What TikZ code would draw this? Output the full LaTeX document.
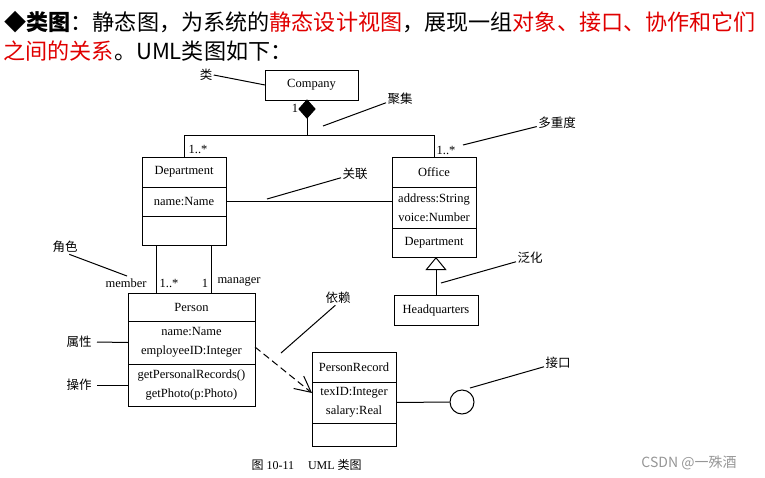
\documentclass[tikz,border=0pt]{standalone}
\usepackage{fontspec}
\setmainfont{Liberation Serif}
\newfontfamily\cjk{Noto Sans CJK SC}
\usetikzlibrary{arrows.meta, positioning, shapes.geometric}
\definecolor{headred}{RGB}{224,0,0}
\definecolor{markgray}{RGB}{150,150,150}

\begin{document}
\begin{tikzpicture}[x=1pt, y=-1pt, line width=1pt,
    cls/.style={draw, minimum width=84pt, minimum height=30pt, inner sep=0pt, outer sep=0pt, align=center, font=\fontsize{12.5}{19}\selectfont},
    note/.style={font=\cjk\fontsize{12.5}{14}\selectfont, inner sep=1pt},
    mult/.style={font=\fontsize{12.5}{14}\selectfont, inner sep=1pt},
    head/.style={font=\cjk\fontsize{22.1}{26}\selectfont, inner sep=0pt, anchor=base west}]
    \useasboundingbox (0,0) rectangle (765,477);

    % Heading
    \node[head] (head1) at (4,30) {◆\textbf{类图}：静态图，为系统的\textcolor{headred}{静态设计视图}，展现一组\textcolor{headred}{对象、接口、协作和它们}};
    \node[head] (head2) at (3,59) {\textcolor{headred}{之间的关系}。UML类图如下：};

    % Classes
    \node[cls, minimum width=93pt] (company) at (311.5,85) {Company};

    \node[cls] (dept) at (184,172) {Department};
    \node[cls, minimum height=29pt, below=0pt of dept] (deptattr) {name:Name};
    \node[cls, minimum height=29pt, below=0pt of deptattr] (deptop) {};

    \node[cls] (office) at (434,172) {Office};
    \node[cls, minimum height=41pt, below=0pt of office] (officeattr) {address:String\\voice:Number};
    \node[cls, minimum height=29pt, below=0pt of officeattr] (officeop) {Department};

    \node[cls] (hq) at (436,310) {Headquarters};

    \node[cls, minimum width=127pt, minimum height=28pt] (person) at (191.5,307) {Person};
    \node[cls, minimum width=127pt, minimum height=43pt, below=0pt of person] (personattr) {name:Name\\employeeID:Integer};
    \node[cls, minimum width=127pt, minimum height=42pt, below=0pt of personattr] (personop) {getPersonalRecords()\\getPhoto(p:Photo)};

    \node[cls] (rec) at (354,367) {PersonRecord};
    \node[cls, minimum height=41pt, below=0pt of rec] (recattr) {texID:Integer\\salary:Real};
    \node[cls, minimum height=23pt, below=0pt of recattr] (recop) {};

    % Interface
    \node[draw, circle, minimum size=24pt, inner sep=0pt] (iface) at (462,402) {};

    % Aggregation
    \node[draw, fill=black, diamond, minimum width=16pt, minimum height=18pt, inner sep=0pt, outer sep=0pt, anchor=north] (agg) at (307,100) {};
    \coordinate (split) at (307,135);
    \draw (agg.south) -- (split);
    \draw (split) -| (dept.north);
    \draw (split) -| (office.north);

    % Association
    \draw (deptattr.east) -- (deptattr.east -| officeattr.west);
    \draw ([xshift=14pt]deptop.south west) -- ([xshift=14pt]deptop.south west |- person.north);
    \draw ([xshift=-15pt]deptop.south east) -- ([xshift=-15pt]deptop.south east |- person.north);

    % Generalization
    \draw[-{Triangle[open, length=13pt, width=21pt]}] (hq.north) -- (hq.north |- officeop.south);

    % Dependency
    \draw[dash pattern=on 7pt off 4pt, -{Straight Barb[length=16pt, width=16pt]}] ([yshift=-4.5pt]personattr.east) -- ([yshift=9.5pt]recattr.west);

    % Interface link
    \draw (recattr.east) -- (iface.west);

    % Multiplicities and roles
    \node[mult] (m1) at (295,108) {1};
    \node[mult] (m2) at (198,149) {1..*};
    \node[mult] (m3) at (446,150) {1..*};
    \node[mult, anchor=east] (m4) at (148,283) {member};
    \node[mult] (m5) at (169,283) {1..*};
    \node[mult] (m6) at (205,283) {1};
    \node[mult, anchor=west] (m7) at (216,282) {manager};

    % Annotations
    \node[note] (lcls) at (206,75) {类};
    \draw (lcls.east) -- (company.west);
    \node[note] (lagg) at (400,99) {聚集};
    \coordinate (pagg) at (323,126);
    \draw (lagg.195) -- (pagg);
    \node[note] (lmul) at (557,123) {多重度};
    \coordinate (pmul) at (463,145);
    \draw (lmul.190) -- (pmul);
    \node[note] (lass) at (355,174) {关联};
    \coordinate (pass) at (267,199);
    \draw (lass.195) -- (pass);
    \node[note] (lgen) at (530,258) {泛化};
    \coordinate (pgen) at (441,283);
    \draw (lgen.195) -- (pgen);
    \node[note] (lrole) at (65,247) {角色};
    \coordinate (prole) at (127,276);
    \draw (lrole.-60) -- (prole);
    \node[note] (lattr) at (79,342) {属性};
    \draw ([xshift=4pt]lattr.east) -- (personattr.west);
    \node[note] (lop) at (79,385) {操作};
    \draw ([xshift=4pt]lop.east) -- (personop.west);
    \node[note] (ldep) at (338,298) {依赖};
    \coordinate (pdep) at (281,353);
    \draw (ldep.250) -- (pdep);
    \node[note] (lint) at (558,363) {接口};
    \coordinate (pint) at (470,388);
    \draw (lint.195) -- (pint);

    % Caption and mark
    \node[anchor=west, inner sep=0pt, font=\fontsize{12}{14}\selectfont] (caption) at (251,465) {{\cjk 图} 10-11\hspace{14pt}UML {\cjk 类图}};
    \node[anchor=east, inner sep=0pt, text=markgray, font=\cjk\fontsize{14}{16}\selectfont] (mark) at (737,463) {CSDN @一殊酒};
\end{tikzpicture}
\end{document}
